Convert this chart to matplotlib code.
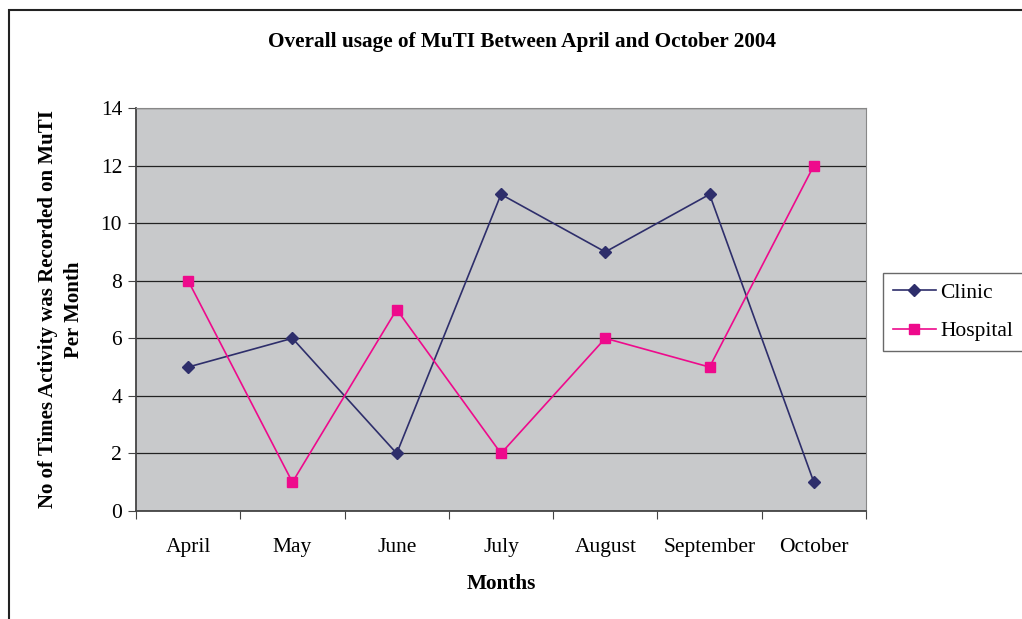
import matplotlib.pyplot as plt
from matplotlib.patches import Rectangle

months = ["April", "May", "June", "July", "August", "September", "October"]
clinic = [5, 6, 2, 11, 9, 11, 1]
hospital = [8, 1, 7, 2, 6, 5, 12]

plt.rcParams["font.family"] = ["Liberation Serif", "DejaVu Serif"]

fig = plt.figure(figsize=(10.22, 6.19), dpi=100)

# outer chart border (runs off the right and bottom edges)
fig.patches.append(Rectangle((9 / 1022, -0.05), 1.1, 1 - 10 / 619 + 0.05,
                             transform=fig.transFigure, fill=False,
                             edgecolor="#222222", linewidth=1.5))

ax = fig.add_axes([136 / 1022, 1 - 511 / 619, 730 / 1022, 403 / 619])
ax.set_facecolor("#c8c9cb")

x = list(range(len(months)))
ax.plot(x, clinic, color="#2e2e6b", lw=1.2, marker="D", ms=6, label="Clinic")
ax.plot(x, hospital, color="#ee0a8c", lw=1.2, marker="s", ms=7, label="Hospital")

ax.set_xlim(-0.5, len(months) - 0.5)
ax.set_ylim(0, 14)
ax.set_yticks(range(0, 15, 2))
ax.yaxis.grid(True, color="#222222", lw=0.9)
ax.set_axisbelow(True)

ax.set_xticks([i - 0.5 for i in range(len(months) + 1)])
ax.set_xticklabels([])
ax.set_xticks(x, minor=True)
ax.set_xticklabels(months, minor=True)
ax.tick_params(axis="x", which="minor", length=0, pad=19.5, labelsize=15.5)
ax.tick_params(axis="x", which="major", length=6, color="#444444")
ax.tick_params(axis="y", length=6, labelsize=15.5, pad=4, color="#444444")

for side in ["top", "right"]:
    ax.spines[side].set_color("#888888")
for side in ["left", "bottom"]:
    ax.spines[side].set_color("#444444")
    ax.spines[side].set_linewidth(1.3)

ax.set_xlabel("Months", fontsize=15.3, fontweight="bold", labelpad=12)
ax.set_ylabel("No of Times Activity was Recorded on MuTI\nPer Month",
              fontsize=15, fontweight="bold", labelpad=12, linespacing=1.4)
fig.text(522 / 1022, 1 - 42 / 619,
         "Overall usage of MuTI Between April and October 2004",
         ha="center", va="center", fontsize=15.3, fontweight="bold")

leg = fig.legend(loc="upper left", bbox_to_anchor=(883 / 1022, 1 - 273 / 619),
                 fontsize=15.5, frameon=True, fancybox=False, handlelength=2.0,
                 borderpad=0.45, labelspacing=0.85, handletextpad=0.2,
                 borderaxespad=0)
leg.get_frame().set_edgecolor("#444444")
leg.get_frame().set_linewidth(1.0)

fig.savefig("out.png", dpi=100)
